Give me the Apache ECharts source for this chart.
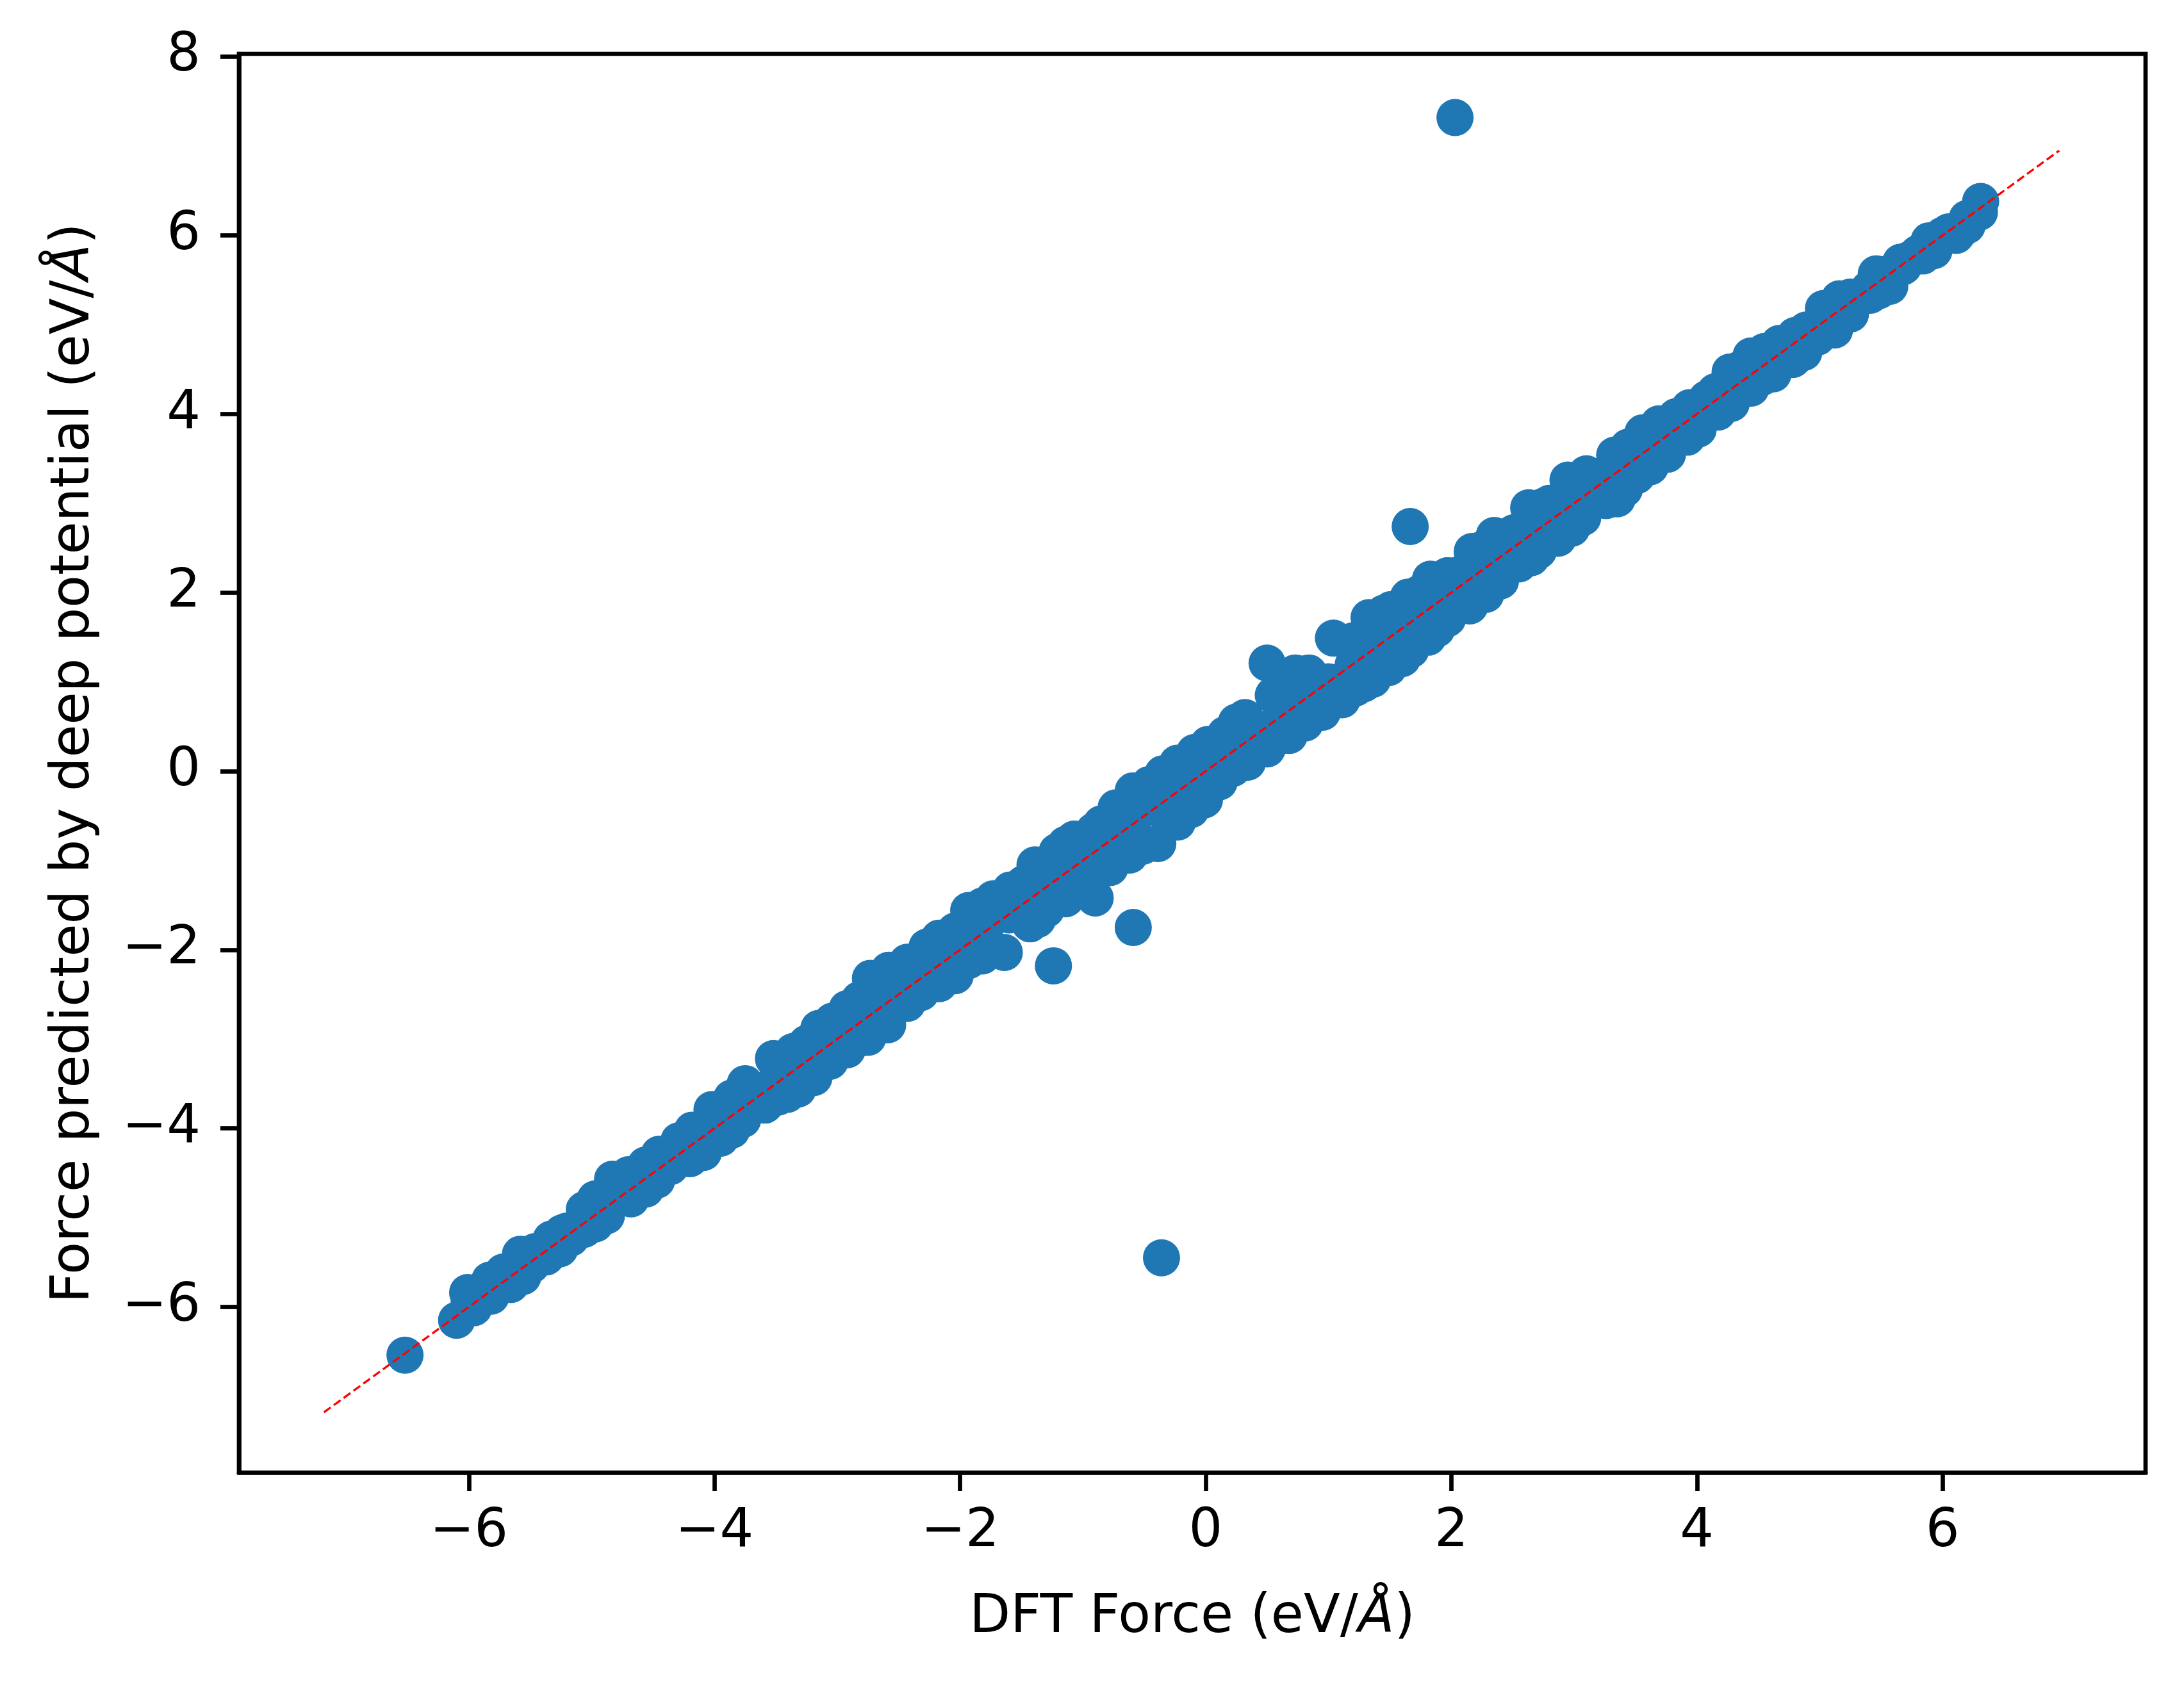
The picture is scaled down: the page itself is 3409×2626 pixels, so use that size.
<!DOCTYPE html>
<html>
<head>
<meta charset="utf-8">
<title>DFT force vs deep potential</title>
<script src="https://cdn.jsdelivr.net/npm/echarts@6/dist/echarts.min.js"></script>
<style>
  html, body { margin: 0; padding: 0; background: #fff; }
  #chart { width: 3409px; height: 2626px; }
</style>
</head>
<body>
<div id="chart"></div>
<script>
// values, [DFT force, predicted force]
const outliers = [
  [2.03, 7.32], [1.665, 2.74], [0.50, 1.21], [1.04, 1.49],
  [-1.24, -2.18], [-0.59, -1.75], [-0.90, -1.42], [-0.36, -5.45],
  [-6.52, -6.54]
];

// points along the upper rim of the band
const upperEdge = [
  [-6.01, -5.84], [-5.83, -5.70], [-5.58, -5.41], [-5.33, -5.24], [-5.06, -4.91],
  [-4.83, -4.57], [-4.70, -4.52], [-4.45, -4.29], [-4.29, -4.14], [-4.02, -3.79],
  [-3.75, -3.50], [-3.52, -3.22], [-3.33, -3.13], [-3.25, -3.05], [-3.15, -2.88],
  [-2.92, -2.66], [-2.73, -2.32], [-2.58, -2.23], [-2.43, -2.14], [-2.17, -1.87],
  [-1.93, -1.56], [-1.73, -1.43], [-1.59, -1.33], [-1.39, -1.05], [-1.21, -0.90],
  [-1.07, -0.76], [-0.85, -0.59], [-0.73, -0.41], [-0.59, -0.22], [-0.46, -0.15],
  [-0.23, 0.09], [-0.10, 0.15], [-0.09, 0.21], [0.16, 0.41], [0.32, 0.60],
  [0.55, 0.85], [0.73, 1.10], [0.84, 1.10], [1.20, 1.46], [1.33, 1.72],
  [1.51, 1.81], [1.65, 1.95], [1.83, 2.15], [1.97, 2.19], [2.17, 2.46],
  [2.35, 2.64], [2.63, 2.95], [2.74, 2.96], [2.95, 3.26], [3.10, 3.33],
  [3.33, 3.54], [3.56, 3.79], [3.69, 3.89], [3.94, 4.07], [4.15, 4.25],
  [4.27, 4.47], [4.44, 4.65], [4.67, 4.79], [4.80, 4.88], [5.03, 5.18],
  [5.16, 5.29], [5.46, 5.57], [5.66, 5.70], [5.89, 5.94], [6.05, 6.04],
  [6.31, 6.38]
];

// points in the shallow dips of the upper rim
const upperDips = [
  [-5.72, -5.61], [-5.46, -5.38], [-5.24, -5.17], [-4.97, -4.79], [-4.56, -4.41],
  [-4.18, -4.02], [-3.86, -3.66], [-3.36, -3.14], [-3.04, -2.80], [-2.82, -2.56],
  [-2.27, -1.97], [-2.04, -1.79], [-1.82, -1.51], [-1.48, -1.26], [-1.14, -0.82],
  [-0.91, -0.67], [-0.35, -0.03], [0.02, 0.30], [0.25, 0.55], [1.45, 1.77],
  [1.74, 1.99], [2.06, 2.20], [2.26, 2.49], [2.51, 2.67], [2.80, 3.00],
  [3.17, 3.28], [3.44, 3.63], [3.83, 3.97], [4.08, 4.17], [4.35, 4.50],
  [4.55, 4.70], [4.89, 4.94], [5.25, 5.31], [5.73, 5.73], [6.14, 6.05]
];

// points along the lower rim of the band
const lowerEdge = [
  [-6.10, -6.15], [-5.82, -5.88], [-5.66, -5.75], [-5.49, -5.53], [-5.37, -5.44],
  [-5.17, -5.23], [-5.06, -5.13], [-4.88, -4.98], [-4.68, -4.79], [-4.47, -4.58],
  [-4.36, -4.43], [-4.20, -4.34], [-4.09, -4.27], [-3.95, -4.11], [-3.77, -3.90],
  [-3.59, -3.74], [-3.48, -3.65], [-3.32, -3.56], [-3.19, -3.43], [-2.92, -3.12],
  [-2.75, -2.98], [-2.59, -2.84], [-2.43, -2.60], [-2.17, -2.38], [-2.04, -2.29],
  [-1.82, -2.07], [-1.64, -2.03], [-1.43, -1.71], [-1.30, -1.55], [-1.14, -1.43],
  [-0.95, -1.25], [-0.78, -1.08], [-0.62, -0.94], [-0.39, -0.81], [-0.23, -0.57],
  [-0.01, -0.32], [0.11, -0.12], [0.34, 0.10], [0.50, 0.25], [0.68, 0.40],
  [0.81, 0.54], [0.95, 0.66], [1.11, 0.80], [1.22, 0.93], [1.36, 1.03],
  [1.49, 1.16], [1.67, 1.36], [1.81, 1.50], [1.97, 1.71], [2.15, 1.85],
  [2.40, 2.13], [2.55, 2.32], [2.71, 2.47], [2.87, 2.61], [3.07, 2.84],
  [3.26, 3.03], [3.41, 3.16], [3.62, 3.41], [3.76, 3.55], [4.01, 3.83],
  [4.17, 4.02], [4.28, 4.12], [4.44, 4.29], [4.62, 4.45], [4.78, 4.61],
  [4.98, 4.86], [5.12, 4.94], [5.25, 5.12], [5.41, 5.33], [5.57, 5.43],
  [5.68, 5.65], [5.93, 5.83], [6.20, 6.11], [6.30, 6.26]
];

// points in the shallow dips of the lower rim
const lowerDips = [
  [-5.96, -6.01], [-5.56, -5.66], [-5.26, -5.35], [-4.97, -5.07], [-4.56, -4.68],
  [-3.86, -4.02], [-3.41, -3.62], [-3.06, -3.25], [-2.81, -2.99], [-2.32, -2.48],
  [-1.93, -2.12], [-1.37, -1.66], [-0.51, -0.84], [-0.12, -0.43], [0.22, 0.03],
  [0.56, 0.36], [1.29, 0.98], [1.60, 1.26], [1.88, 1.59], [2.28, 1.98],
  [2.65, 2.39], [2.98, 2.72], [3.35, 3.05], [3.51, 3.31], [3.92, 3.74],
  [4.53, 4.41], [4.87, 4.69], [5.48, 5.38], [5.84, 5.77], [6.11, 6.00]
];

// points inside the solid part of the band
const bandCore = [
  [-6.0, -5.97], [-5.8, -5.76], [-5.6, -5.56], [-5.4, -5.36], [-5.2, -5.15],
  [-5.0, -4.96], [-4.8, -4.75], [-4.6, -4.55], [-4.4, -4.36], [-4.2, -4.16],
  [-4.0, -3.96], [-3.8, -3.77], [-3.6, -3.57], [-3.4, -3.38], [-3.2, -3.18],
  [-3.0, -2.98], [-2.8, -2.78], [-2.6, -2.58], [-2.4, -2.38], [-2.2, -2.19],
  [-2.0, -1.99], [-1.8, -1.79], [-1.6, -1.61], [-1.4, -1.39], [-1.2, -1.21],
  [-1.0, -1.01], [-0.8, -0.80], [-0.6, -0.61], [-0.4, -0.41], [-0.2, -0.20],
  [0.0, -0.01], [0.2, 0.19], [0.4, 0.40], [0.6, 0.59], [0.8, 0.80],
  [1.0, 1.00], [1.2, 1.19], [1.4, 1.40], [1.6, 1.60], [1.8, 1.81],
  [2.0, 2.00], [2.2, 2.19], [2.4, 2.40], [2.6, 2.61], [2.8, 2.80],
  [3.0, 3.00], [3.2, 3.21], [3.4, 3.40], [3.6, 3.60], [3.8, 3.81],
  [4.0, 4.00], [4.2, 4.20], [4.4, 4.41], [4.6, 4.60], [4.8, 4.80],
  [5.0, 5.01], [5.2, 5.20], [5.4, 5.40], [5.6, 5.60], [5.8, 5.80],
  [6.0, 6.00], [6.2, 6.19]
];

// dashed y = x reference line ends
const parityLine = [[-7.18, -7.18], [6.95, 6.95]];

const xTicks = [-6, -4, -2, 0, 2, 4, 6];
const yTicks = [-6, -4, -2, 0, 2, 4, 6, 8];

const FONT = 'DejaVu Sans';
const SPINE = 6.7;

function fmt(v) {
  return v < 0 ? '\u2212' + Math.abs(v) : String(v);
}

const chart = echarts.init(document.getElementById('chart'));

const points = outliers.concat(upperEdge, upperDips, lowerEdge, lowerDips, bandCore);

chart.setOption({
  animation: false,
  backgroundColor: '#fff',
  grid: {
    left: 373, right: 60, top: 84, bottom: 327,
    show: true, borderColor: '#000', borderWidth: SPINE,
    backgroundColor: 'transparent'
  },
  xAxis: {
    type: 'value',
    min: -7.872, max: 7.653,
    name: 'DFT Force (eV/{i|Å})',
    nameLocation: 'middle',
    nameGap: 186,
    nameTextStyle: {
      fontFamily: FONT, fontSize: 83, color: '#000',
      rich: { i: { fontFamily: FONT, fontSize: 83, fontStyle: 'italic', color: '#000' } }
    },
    splitLine: { show: false },
    axisLine: { onZero: false, lineStyle: { color: '#000', width: SPINE } },
    axisTick: { inside: false, length: 29, customValues: xTicks, lineStyle: { color: '#000', width: SPINE } },
    axisLabel: { customValues: xTicks, formatter: fmt, fontFamily: FONT, fontSize: 83, color: '#000', margin: 52 }
  },
  yAxis: {
    type: 'value',
    min: -7.855, max: 8.034,
    name: 'Force predicted by deep potential (eV/{i|Å})',
    nameLocation: 'middle',
    nameRotate: 90,
    nameGap: 215,
    nameTextStyle: {
      fontFamily: FONT, fontSize: 83, color: '#000',
      rich: { i: { fontFamily: FONT, fontSize: 83, fontStyle: 'italic', color: '#000' } }
    },
    splitLine: { show: false },
    axisLine: { onZero: false, lineStyle: { color: '#000', width: SPINE } },
    axisTick: { inside: false, length: 29, customValues: yTicks, lineStyle: { color: '#000', width: SPINE } },
    axisLabel: { customValues: yTicks, formatter: fmt, fontFamily: FONT, fontSize: 83, color: '#000', margin: 60 }
  },
  series: [
    {
      type: 'scatter',
      data: points,
      symbol: 'circle',
      symbolSize: 58,
      itemStyle: { color: '#1f77b4', opacity: 1 },
      z: 2
    },
    {
      type: 'line',
      data: parityLine,
      symbol: 'none',
      lineStyle: { color: 'red', width: 3.3, type: [13, 6] },
      z: 3
    }
  ]
});
</script>
</body>
</html>
